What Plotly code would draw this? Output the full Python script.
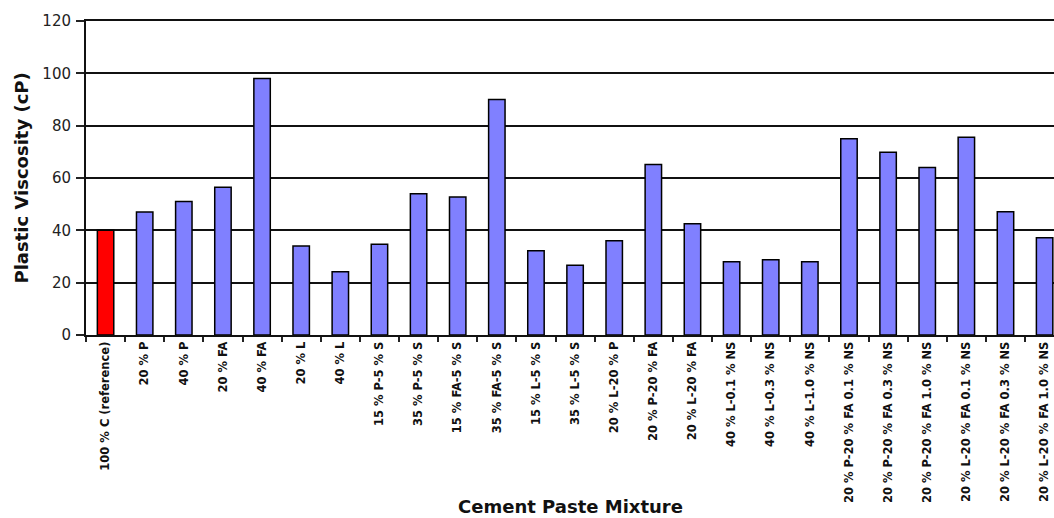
import plotly.graph_objects as go

mixtures = [
    "100 % C (reference)", "20 % P", "40 % P", "20 % FA", "40 % FA", "20 % L", "40 % L",
    "15 % P-5 % S", "35 % P-5 % S", "15 % FA-5 % S", "35 % FA-5 % S", "15 % L-5 % S",
    "35 % L-5 % S", "20 % L-20 % P", "20 % P-20 % FA", "20 % L-20 % FA",
    "40 % L-0.1 % NS", "40 % L-0.3 % NS", "40 % L-1.0 % NS",
    "20 % P-20 % FA 0.1 % NS", "20 % P-20 % FA 0.3 % NS", "20 % P-20 % FA 1.0 % NS",
    "20 % L-20 % FA 0.1 % NS", "20 % L-20 % FA 0.3 % NS", "20 % L-20 % FA 1.0 % NS",
]
viscosity = [40, 47, 51, 56.5, 98, 34, 24.2, 34.7, 54, 52.7, 90, 32.2, 26.7, 36, 65.2,
             42.5, 28, 28.8, 28, 75, 69.8, 64, 75.6, 47.1, 37.2]

colors = ["#FF0000"] + ["#8080FF"] * (len(mixtures) - 1)

FONT = "DejaVu Sans, Verdana, sans-serif"

fig = go.Figure(go.Bar(
    x=mixtures, y=viscosity,
    marker=dict(color=colors, line=dict(color="#000000", width=1.5)),
    width=0.42,
))

fig.update_layout(
    width=1054, height=518,
    margin=dict(l=86, r=0, t=21, b=183),
    plot_bgcolor="white", paper_bgcolor="white",
    showlegend=False,
    font=dict(family=FONT, color="#111"),
    xaxis=dict(
        range=[-0.5, 24.24],
        tickangle=-90,
        tickfont=dict(size=11.5, family=FONT, weight="bold"),
        ticks="outside", tickson="boundaries", ticklen=5, tickwidth=1.5, tickcolor="#222",
        showline=True, linecolor="#111", linewidth=2, mirror=True,
        showgrid=False,
    ),
    yaxis=dict(
        range=[0, 120], dtick=20,
        tickfont=dict(size=15, color="#222", family=FONT),
        ticks="outside", ticklen=8, tickwidth=1.5, tickcolor="#222",
        ticklabelstandoff=2,
        showline=True, linecolor="#111", linewidth=2,
        showgrid=True, gridcolor="#111", gridwidth=2,
        zeroline=False,
    ),
    annotations=[
        dict(text="<b>Plastic Viscosity (cP)</b>", xref="paper", yref="paper",
             x=0, y=0.5, xshift=-78, textangle=-90, showarrow=False,
             font=dict(size=18, color="#111", family=FONT)),
        dict(text="<b>Cement Paste Mixture</b>", xref="paper", yref="paper",
             x=0.5, y=0, yshift=-184, showarrow=False,
             font=dict(size=18, color="#111", family=FONT)),
    ],
)

fig.write_html("out.html")
